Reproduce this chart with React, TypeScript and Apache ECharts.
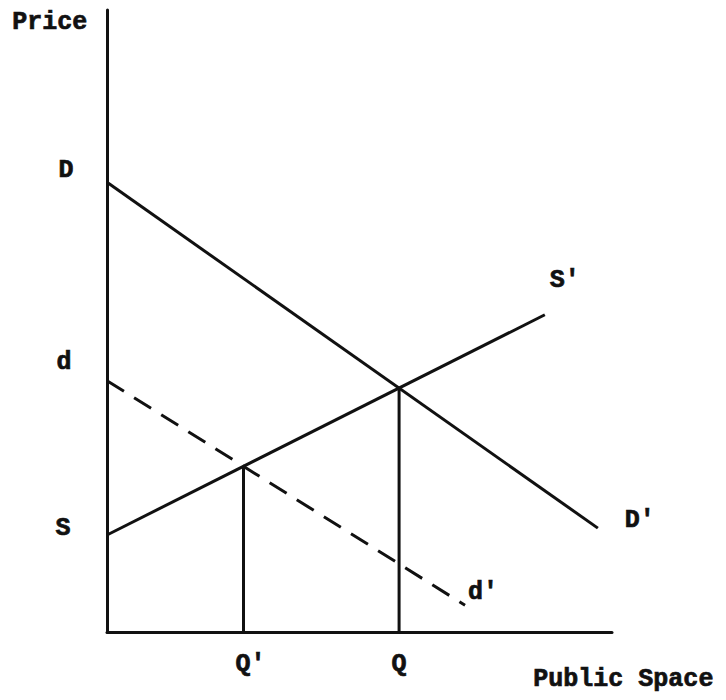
import React, { useEffect, useRef } from "react";
import * as echarts from "echarts";

// Curve endpoints in chart units (x: quantity of public space, y: price)
const demandD: [number, number][] = [[0, 72.3], [97.2, 16.7]];
const demandd: [number, number][] = [[0, 40.4], [70.9, 4.3]];
const supplyS: [number, number][] = [[0, 15.6], [86.7, 51.0]];
const startLabels = { D: "D", d: "d", S: "S" };
const endLabels = { D: "D'", d: "d'", S: "S'" };
const xAxisName = "Public Space";
const yAxisName = "Price";
const qLabels = ["Q'", "Q"];

function lineAt(l: [number, number][], x: number) {
  const [[x0, y0], [x1, y1]] = l;
  return y0 + ((y1 - y0) * (x - x0)) / (x1 - x0);
}
function intersect(a: [number, number][], b: [number, number][]): [number, number] {
  const sa = (a[1][1] - a[0][1]) / (a[1][0] - a[0][0]);
  const sb = (b[1][1] - b[0][1]) / (b[1][0] - b[0][0]);
  const ia = a[0][1] - sa * a[0][0];
  const ib = b[0][1] - sb * b[0][0];
  const x = (ib - ia) / (sa - sb);
  return [x, lineAt(a, x)];
}

const FONT = "'Liberation Mono', 'Courier New', monospace";
const INK = "#111";

export default function App() {
  const ref = useRef<HTMLDivElement>(null);
  useEffect(() => {
    if (!ref.current) return;
    const chart = echarts.init(ref.current, undefined, { renderer: "svg" });
    const qPrime = intersect(supplyS, demandd);
    const q = intersect(supplyS, demandD);
    const lbl = (text: string, offset: [number, number]) => ({
      show: true,
      position: "inside",
      offset,
      formatter: text,
      color: INK,
      fontFamily: FONT,
      fontWeight: "bold",
      fontSize: 25,
      textBorderColor: INK,
      textBorderWidth: 0.7,
    });
    const lineStyle = { color: INK, width: 3 };
    const common = {
      type: "line",
      symbol: "circle",
      symbolSize: 0.1,
      showSymbol: true,
      silent: true,
      itemStyle: { color: INK },
    };
    chart.setOption({
      animation: false,
      grid: { left: 107, top: 10, right: 114, bottom: 68 },
      xAxis: {
        type: "value",
        min: 0,
        max: 100,
        axisLine: { show: true, lineStyle: { color: INK, width: 3 } },
        axisTick: { show: false },
        axisLabel: { show: false },
        splitLine: { show: false },
      },
      yAxis: {
        type: "value",
        min: 0,
        max: 100,
        axisLine: { show: true, lineStyle: { color: INK, width: 3 } },
        axisTick: { show: false },
        axisLabel: { show: false },
        splitLine: { show: false },
      },
      graphic: [
        {
          type: "text",
          left: 12,
          top: 10,
          style: {
            text: yAxisName,
            font: `bold 25px ${FONT}`,
            fill: INK,
            stroke: INK,
            lineWidth: 0.7,
          },
        },
        {
          type: "text",
          left: 533,
          top: 667,
          style: {
            text: xAxisName,
            font: `bold 25px ${FONT}`,
            fill: INK,
            stroke: INK,
            lineWidth: 0.7,
          },
        },
      ],
      series: [
        {
          ...common,
          name: "D",
          lineStyle,
          data: [
            { value: demandD[0], label: lbl(startLabels.D, [-41, -12]) },
            { value: demandD[1], label: lbl(endLabels.D, [42, -8]) },
          ],
        },
        {
          ...common,
          name: "S",
          lineStyle,
          data: [
            { value: supplyS[0], label: lbl(startLabels.S, [-44, -6]) },
            { value: supplyS[1], label: lbl(endLabels.S, [20, -34]) },
          ],
        },
        {
          ...common,
          name: "d",
          lineStyle: { ...lineStyle, type: [20, 12] },
          data: [
            { value: demandd[0], label: lbl(startLabels.d, [-43, -18]) },
            { value: demandd[1], label: lbl(endLabels.d, [18, -13]) },
          ],
        },
        {
          ...common,
          name: "Q'",
          lineStyle,
          data: [
            { value: [qPrime[0], 0], label: lbl(qLabels[0], [7, 32]) },
            { value: qPrime },
          ],
        },
        {
          ...common,
          name: "Q",
          lineStyle,
          data: [
            { value: [q[0], 0], label: lbl(qLabels[1], [0, 32]) },
            { value: q },
          ],
        },
      ],
    });
    return () => chart.dispose();
  }, []);
  return (
    <div
      ref={ref}
      style={{ position: "fixed", left: 0, top: 0, width: 726, height: 700, background: "#fff" }}
    />
  );
}
